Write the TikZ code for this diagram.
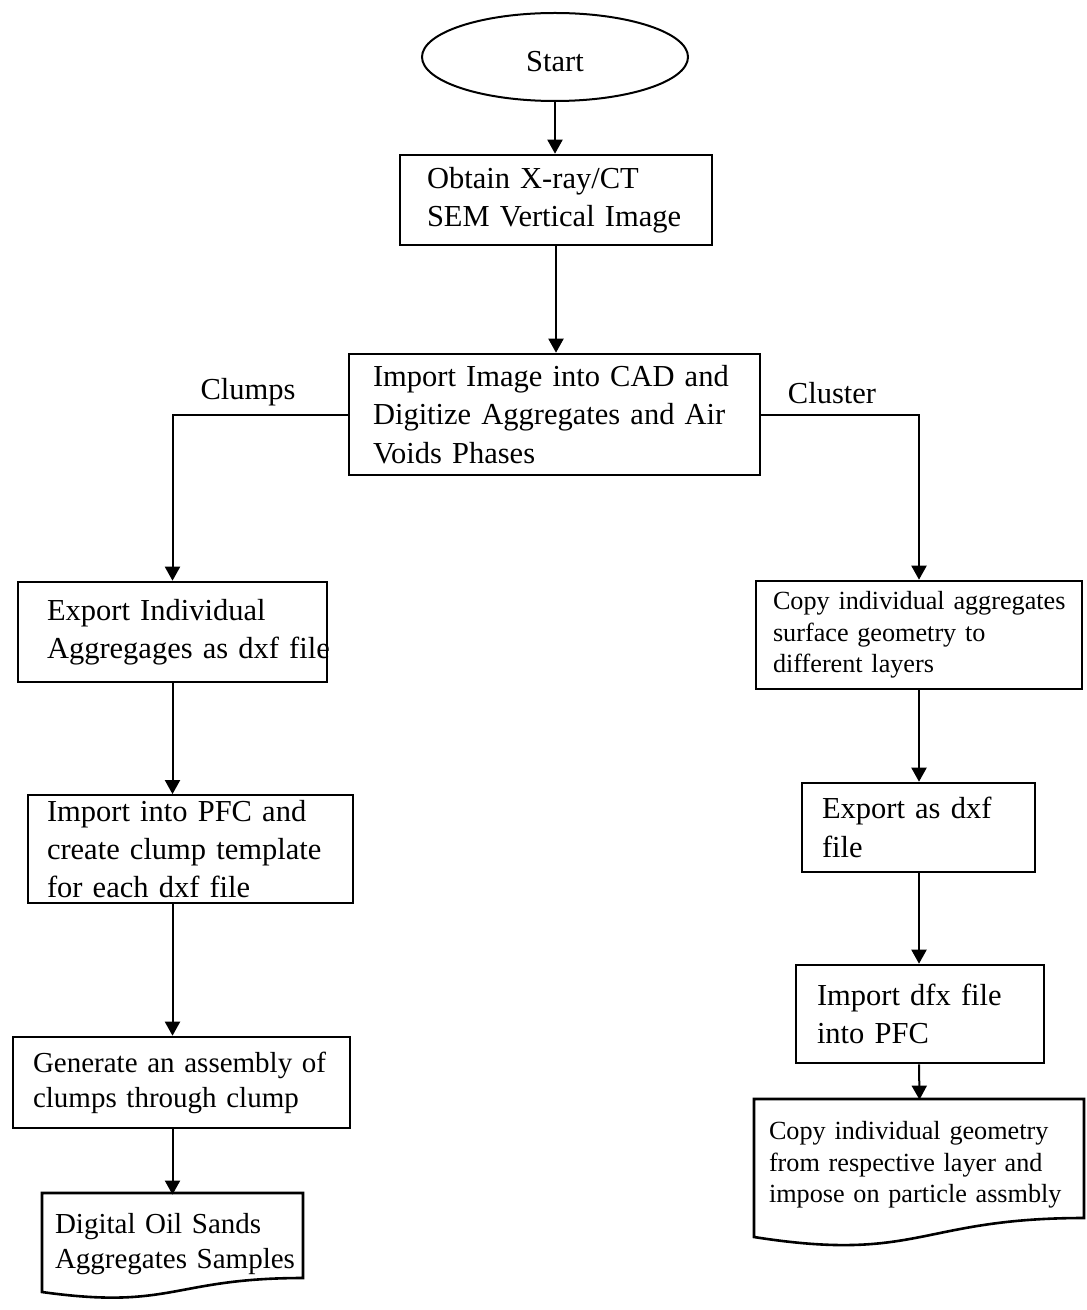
\documentclass[tikz,border=0pt]{standalone}
\usepackage{fontspec}
\setmainfont{Liberation Serif}
\usetikzlibrary{arrows.meta,shapes.geometric}
\newcommand\keep[1]{\mbox{#1}}

\begin{document}
\begin{tikzpicture}[x=0.5pt,y=-0.5pt,
  box/.style={draw, line width=1.3pt, rectangle, align=left, inner ysep=0pt},
  plain/.style={rectangle, align=left, inner ysep=0pt},
  big/.style={font=\fontsize{15.25}{19.2}\selectfont},
  mid/.style={font=\fontsize{14.5}{17.5}\selectfont},
  small/.style={font=\fontsize{13.1}{15.8}\selectfont},
  flow/.style={line width=1pt, -{Triangle[length=7pt,width=7.5pt]}},
  doc/.style={draw, line width=1.3pt, line join=miter},
]
\useasboundingbox (0,0) rectangle (1086,1310);

% start terminal
\node[ellipse, draw, line width=1pt, minimum width=133pt, minimum height=44pt, big] (st) at (555,57)
  {\raisebox{-2.5pt}[\height][\depth]{Start}};

% central column
\node[box, big, text width=129pt, inner xsep=13.5pt, minimum height=45pt] (b1) at (556,200)
  {\keep{Obtain X-ray/CT}\\\keep{SEM Vertical Image}};
\node[box, big, text width=181.5pt, inner xsep=12pt, minimum height=60.5pt] (b2) at (554.5,414.5)
  {\keep{Import Image into CAD and}\\\keep{Digitize Aggregates and Air}\\\keep{Voids Phases}};

% clump branch
\node[box, big, text width=125.5pt, inner xsep=14.5pt, minimum height=50pt] (b3) at (172.5,632)
  {\keep{Export Individual}\\\keep{Aggregages as dxf file}};
\node[box, big, line width=0.9pt, text width=143.5pt, inner xsep=9.5pt, minimum height=54pt] (b4) at (190.5,849)
  {\keep{Import into PFC and}\\\keep{create clump template}\\\keep{for each dxf file}};
\node[box, mid, text width=148.5pt, inner xsep=10pt, minimum height=45.5pt] (b5) at (181.5,1082.5)
  {\keep{Generate an assembly of}\\\keep{clumps through clump}};
\node[plain, mid, text width=117.5pt, inner xsep=6.5pt, minimum height=49pt] (d1) at (172.5,1244)
  {\keep{Digital Oil Sands}\\\keep{Aggregates Samples}};
\draw[doc] (42,1193) -- (303,1193) -- (303,1278)
  .. controls (172.5,1278) and (172.5,1310.3) .. (42,1292) -- cycle;

% cluster branch
\node[box, small, text width=146pt, inner xsep=8.5pt, minimum height=54pt] (r1) at (919,635)
  {\keep{Copy individual aggregates}\\\keep{surface geometry to}\\\keep{different layers}};
\node[box, big, text width=96.5pt, inner xsep=10pt, minimum height=44.5pt] (r2) at (918.5,827.5)
  {\keep{Export as dxf}\\\keep{file}};
\node[box, big, text width=103pt, inner xsep=10.5pt, minimum height=49pt] (r3) at (920,1014)
  {\keep{Import dfx file}\\\keep{into PFC}};
\node[plain, small, text width=150.5pt, inner xsep=7.5pt, minimum height=65pt] (d2) at (919.5,1165)
  {\keep{Copy individual geometry}\\\keep{from respective layer and}\\\keep{impose on particle assmbly}};
\draw[doc] (754,1099) -- (1084,1099) -- (1084,1218)
  .. controls (919,1218) and (919,1263) .. (754,1237) -- cycle;

% branch labels
\node[big] (lclumps) at (248,392) {Clumps};
\node[big] (lcluster) at (832,393) {Cluster};

% connectors
\draw[flow] (st.south) -- (st.south |- b1.north);
\draw[flow] (b1.south) -- (b1.south |- b2.north);
\draw[flow] (b2.west) -| (b3.north);
\draw[flow] (b2.east) -| (r1.north);
\draw[flow] (b3.south) -- (b3.south |- b4.north);
\draw[flow] (b3.south |- b4.south) -- (b3.south |- b5.north);
\draw[flow] (b3.south |- b5.south) -- (d1.north);
\draw[flow] (r1.south) -- (r1.south |- r2.north);
\draw[flow] (r1.south |- r2.south) -- (r1.south |- r3.north);
\draw[flow] (r1.south |- r3.south) -- (d2.north);
\end{tikzpicture}
\end{document}
